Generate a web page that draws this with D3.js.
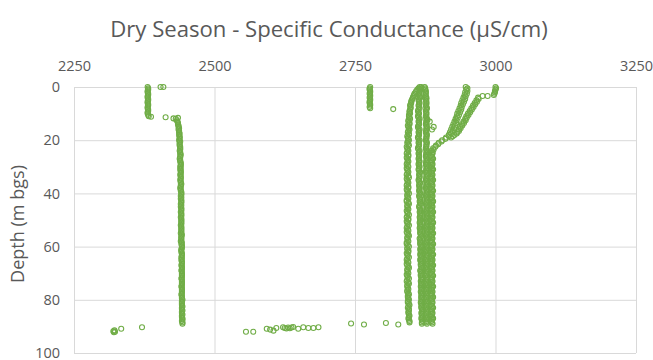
<!DOCTYPE html>
<html><head><meta charset="utf-8">
<script src="https://cdn.jsdelivr.net/npm/d3@7"></script>
<style>body{margin:0;background:#fff;} svg{display:block;}</style>
</head><body><svg id="chart" width="653" height="360"></svg>
<script>
// ---------------- DATA ----------------
const titleText = "Dry Season - Specific Conductance (µS/cm)";
const yTitleText = "Depth (m bgs)";
const xTicks = [2250, 2500, 2750, 3000, 3250];
const yTicks = [0, 20, 40, 60, 80, 100];

// depth samples (m bgs), down-cast (whole metres) and up-cast (half metres)
const depthDown = [0,1,2,3,4,5,6,7,8,9,10,11,12,13,14,15,16,17,18,19,20,21,22,23,24,25,26,27,28,29,
  30,31,32,33,34,35,36,37,38,39,40,41,42,43,44,45,46,47,48,49,50,51,52,53,54,55,56,57,58,59,
  60,61,62,63,64,65,66,67,68,69,70,71,72,73,74,75,76,77,78,79,80,81,82,83,84,85,86,87,88,89];
const depthUp = [0.5,1.5,2.5,3.5,4.5,5.5,6.5,7.5,8.5,9.5,10.5,11.5,12.5,13.5,14.5,15.5,16.5,17.5,18.5,19.5,
  20.5,21.5,22.5,23.5,24.5,25.5,26.5,27.5,28.5,29.5,30.5,31.5,32.5,33.5,34.5,35.5,36.5,37.5,38.5,39.5,
  40.5,41.5,42.5,43.5,44.5,45.5,46.5,47.5,48.5,49.5,50.5,51.5,52.5,53.5,54.5,55.5,56.5,57.5,58.5,59.5,
  60.5,61.5,62.5,63.5,64.5,65.5,66.5,67.5,68.5,69.5,70.5,71.5,72.5,73.5,74.5,75.5,76.5,77.5,78.5,79.5,
  80.5,81.5,82.5,83.5,84.5,85.5,86.5,87.5,88.5];

// well C1 (left column of the main cluster)
const wellC1Down = [2865,2861,2858,2855,2853,2851,2850,2848,2849,2847,
  2848,2846,2848,2845,2847,2845,2847,2844,2846,2844,
  2846,2843,2846,2843,2845,2842,2845,2843,2845,2842,
  2845,2843,2845,2842,2846,2843,2845,2842,2845,2843,
  2846,2843,2845,2842,2846,2843,2845,2843,2846,2842,
  2845,2843,2846,2842,2845,2843,2846,2843,2845,2842,
  2846,2843,2845,2843,2846,2842,2845,2843,2846,2843,
  2845,2843,2846,2842,2846,2843,2845,2843,2846,2844,
  2846,2844,2847,2844,2846,2845,2847,2845,2847];
const wellC1Up = [2863,2859,2856,2854,2852,2850,2849,2849,2848,2847,
  2846,2847,2845,2847,2844,2846,2845,2846,2843,2845,
  2844,2845,2842,2844,2843,2845,2842,2844,2843,2844,
  2842,2844,2843,2845,2842,2844,2843,2845,2842,2844,
  2843,2844,2842,2845,2843,2844,2842,2844,2843,2845,
  2842,2844,2843,2844,2842,2845,2843,2844,2842,2844,
  2843,2845,2842,2844,2843,2844,2842,2845,2843,2844,
  2842,2844,2843,2845,2843,2844,2843,2845,2844,2845,
  2844,2846,2845,2846,2845,2846,2846,2846,2847];
// well C2 (middle column)
const wellC2Down = [2868,2866,2865,2864,2866,2863,2865,2863,2865,2862,
  2864,2862,2865,2863,2864,2862,2865,2863,2864,2862,
  2865,2863,2864,2862,2865,2863,2864,2863,2865,2863,
  2865,2863,2866,2864,2865,2863,2866,2864,2865,2864,
  2866,2864,2866,2865,2867,2864,2866,2865,2867,2865,
  2866,2865,2867,2865,2867,2866,2868,2865,2867,2866,
  2868,2866,2867,2866,2868,2866,2868,2867,2869,2866,
  2868,2867,2869,2867,2868,2867,2869,2867,2869,2868,
  2869,2867,2869,2868,2870,2868,2869,2868,2870,2869];
const wellC2Up = [2867,2865,2864,2865,2864,2864,2864,2864,2863,2863,
  2863,2863,2864,2864,2863,2863,2864,2864,2863,2863,
  2864,2864,2863,2863,2864,2864,2864,2864,2864,2864,
  2864,2864,2865,2865,2864,2864,2865,2865,2865,2865,
  2865,2865,2866,2866,2865,2865,2866,2866,2866,2866,
  2866,2866,2866,2866,2866,2867,2867,2866,2866,2867,
  2867,2867,2867,2867,2867,2867,2867,2868,2868,2867,
  2867,2868,2868,2868,2868,2868,2868,2868,2868,2868,
  2868,2868,2868,2869,2869,2869,2869,2869,2869];
// well C3 (right column)
const wellC3Down = [2874,2875,2876,2875,2877,2876,2877,2876,2878,2876,
  2877,2876,2878,2877,2876,2878,2877,2876,2878,2877,
  2876,2878,2877,2876,2878,2877,2876,2878,2877,2876,
  2878,2877,2876,2878,2877,2876,2878,2877,2876,2878,
  2877,2876,2878,2877,2876,2878,2877,2876,2878,2877,
  2876,2878,2877,2876,2878,2877,2876,2878,2877,2876,
  2878,2877,2876,2878,2877,2876,2878,2877,2876,2878,
  2877,2876,2878,2877,2876,2878,2877,2876,2878,2877,
  2876,2878,2877,2876,2878,2877,2876,2878,2877,2878];
const wellC3Up = [2875,2876,2876,2876,2877,2877,2877,2877,2877,2877,
  2877,2877,2877,2877,2877,2877,2877,2877,2877,2877,
  2877,2877,2877,2877,2877,2877,2877,2877,2877,2877,
  2877,2877,2877,2877,2877,2877,2877,2877,2877,2877,
  2877,2877,2877,2877,2877,2877,2877,2877,2877,2877,
  2877,2877,2877,2877,2877,2877,2877,2877,2877,2877,
  2877,2877,2877,2877,2877,2877,2877,2877,2877,2877,
  2877,2877,2877,2877,2877,2877,2877,2877,2877,2877,
  2877,2877,2877,2877,2877,2877,2877,2877,2877];
// well D (starts ~2947, bends into the right column)
const wellDDown = [2947,2948,2946,2945,2943,2941,2939,2938,2936,2934,
  2932,2931,2929,2927,2925,2923,2921,2919,2917,2912,
  2905,2899,2894,2889,2886,2888,2885,2889,2886,2888,
  2885,2889,2886,2888,2885,2889,2886,2888,2885,2889,
  2886,2888,2885,2889,2886,2888,2885,2889,2886,2888,
  2885,2889,2886,2888,2885,2889,2886,2888,2885,2889,
  2886,2888,2885,2889,2886,2888,2885,2889,2886,2888,
  2885,2889,2886,2888,2885,2889,2886,2888,2885,2889,
  2886,2888,2885,2889,2886,2888,2885,2889,2886,2888];
const wellDUp = [2950,2950,2949,2947,2946,2944,2942,2940,2939,2937,
  2935,2933,2931,2930,2928,2926,2924,2921,2917,2911,
  2904,2898,2893,2890,2888,2887,2887,2887,2887,2887,
  2887,2887,2887,2887,2887,2887,2887,2887,2887,2887,
  2887,2887,2887,2887,2887,2887,2887,2887,2887,2887,
  2887,2887,2887,2887,2887,2887,2887,2887,2887,2887,
  2887,2887,2887,2887,2887,2887,2887,2887,2887,2887,
  2887,2887,2887,2887,2887,2887,2887,2887,2887,2887,
  2887,2887,2887,2887,2887,2887,2887,2887,2887];
// well E (starts ~3000, joins well D near 19 m)
const wellEDepth = [0,0.5,1,1.5,2,2.5,3,3.4,3.4,4,4.5,5,5.5,6,6.5,7,7.5,8,8.5,9,9.5,10,10.5,11,11.5,12,12.5,13,13.5,14,14.5,15,15.5,16,16.5,17,17.5,18,18.5,19];
const wellE = [3000,3001,3000,2999,2999,2998,2997,2986,2977,2969,2970,2966,2967,2963,2964,2960,2961,2957,2958,2954,2955,2951,2952,2948,2949,2946,2947,2943,2944,2940,2941,2937,2938,2935,2935,2932,2931,2927,2924,2921];
// well A, shallow part
const wellA1Depth = [0,0.5,1,1.5,2,2.5,3,3.5,4,4.5,5,5.5,6,6.5,7,7.5,8,8.5,9,9.5,10,10.5,11,11.2];
const wellA1 = [2381,2382,2382,2381,2381,2382,2382,2381,2381,2382,2382,2381,2381,2382,2382,2381,2381,2382,2382,2381,2381,2382,2383,2387];
// well A, deep part (depthDown from 12 m and depthUp from 12.5 m)
const wellA2Down = [2431,2434,2435,2436,2436,2437,2437,2438,2437,2438,
  2438,2439,2438,2439,2439,2438,2439,2440,2439,2439,
  2440,2439,2440,2439,2440,2440,2439,2440,2441,2440,
  2440,2441,2440,2440,2441,2440,2441,2440,2441,2441,
  2440,2441,2441,2440,2441,2441,2440,2441,2442,2441,
  2441,2442,2441,2441,2442,2441,2442,2441,2442,2442,
  2441,2442,2442,2441,2442,2442,2441,2442,2443,2442,
  2442,2442,2443,2442,2442,2443,2442,2443];
const wellA2Up = [2433,2435,2436,2437,2437,2438,2438,2438,2439,2438,
  2439,2439,2439,2440,2439,2439,2440,2440,2440,2440,
  2440,2440,2440,2440,2441,2440,2440,2441,2441,2441,
  2441,2441,2441,2441,2441,2441,2441,2441,2441,2441,
  2441,2441,2441,2442,2441,2441,2442,2442,2442,2441,
  2442,2442,2442,2442,2442,2442,2442,2442,2442,2442,
  2442,2442,2442,2442,2442,2442,2442,2442,2442,2442,
  2443,2442,2442,2443,2442,2443,2443];
// well B, shallow profile near 2777
const wellBDepth = [0,0.5,1,1.5,2,2.5,3,3.5,4,4.5,5,5.5,6,6.5,7,7.5,8,8.3];
const wellB = [2777,2776,2776,2777,2777,2776,2777,2777,2776,2777,2777,2776,2776,2777,2777,2776,2777,2818];
// isolated readings: [depth, conductance]
const scatterPts = [[0,2404],[0,2409],[11.4,2413],[11.8,2427],[11.6,2435],
  [12.4,2879],[13,2883],[15,2890],[16,2887],
  [91.8,2320],[92.2,2321],[91.5,2322],[92,2323],[90.9,2334],[90.3,2371],
  [92,2556],[92,2569],[90.9,2593],[91.2,2599],[91.6,2605],[90.6,2610],
  [90.3,2622],[90.6,2625],[90.8,2628],[90.4,2631],[90.7,2634],[90.4,2637],[90.2,2640],
  [90.9,2649],[90.3,2658],[90.6,2667],[90.6,2676],[90.3,2685],
  [88.9,2743],[89.3,2766],[88.7,2805],[89.3,2827]];

// ---------------- BUILD POINTS ----------------
const pts = [];
function addSeries(depths, vals){ vals.forEach((v,i)=>pts.push({d:depths[i], v:v})); }
addSeries(depthDown, wellC1Down); addSeries(depthUp, wellC1Up);
addSeries(depthDown, wellC2Down); addSeries(depthUp, wellC2Up);
addSeries(depthDown, wellC3Down); addSeries(depthUp, wellC3Up);
addSeries(depthDown, wellDDown);  addSeries(depthUp, wellDUp);
addSeries(wellEDepth, wellE);
addSeries(wellA1Depth, wellA1);
addSeries(depthDown.slice(12), wellA2Down); addSeries(depthUp.slice(12), wellA2Up);
addSeries(wellBDepth, wellB);
scatterPts.forEach(p=>pts.push({d:p[0], v:p[1]}));

// ---------------- DRAW ----------------
const svg = d3.select("#chart");
const x = d3.scaleLinear().domain([2250,3250]).range([74,636]);
const y = d3.scaleLinear().domain([0,100]).range([87,353]);
const font = "'Open Sans', sans-serif";
const txt = "#595959", grid = "#d9d9d9", green = "#70ad47";

const xAxis = svg.append("g").attr("transform", `translate(0,${y(0)})`)
  .call(d3.axisTop(x).tickValues(xTicks).tickFormat(d3.format("d"))
    .tickSizeInner(-(y(100)-y(0))).tickSizeOuter(0).tickPadding(16));
xAxis.select(".domain").remove();
xAxis.selectAll("line").attr("stroke", grid);
xAxis.selectAll("text").attr("fill", txt).attr("font-family", font).attr("font-size", 14.5);

const yAxis = svg.append("g").attr("transform", `translate(${x(2250)},0)`)
  .call(d3.axisLeft(y).tickValues(yTicks).tickFormat(d3.format("d"))
    .tickSizeInner(-(x(3250)-x(2250))).tickSizeOuter(0).tickPadding(14));
yAxis.select(".domain").remove();
yAxis.selectAll("line").attr("stroke", grid);
yAxis.selectAll("text").attr("fill", txt).attr("font-family", font).attr("font-size", 14.5);

svg.append("g").selectAll("circle").data(pts).join("circle")
  .attr("cx", d=>x(d.v)).attr("cy", d=>y(d.d)).attr("r", 2.5)
  .attr("fill", "none").attr("stroke", green).attr("stroke-width", 1.1);

function fit(sel, target){
  const len = sel.node().getComputedTextLength();
  sel.attr("font-size", parseFloat(sel.attr("font-size")) * target / len);
}
const title = svg.append("text").attr("x", 329).attr("y", 37).attr("text-anchor","middle")
  .attr("font-family", font).attr("font-size", 19).attr("fill", txt).text(titleText);
fit(title, 438);
const yt = svg.append("text").attr("transform", "translate(24,224) rotate(-90)")
  .attr("text-anchor","middle").attr("font-family", font).attr("font-size", 14).attr("fill", txt).text(yTitleText);
fit(yt, 118);
</script></body></html>
